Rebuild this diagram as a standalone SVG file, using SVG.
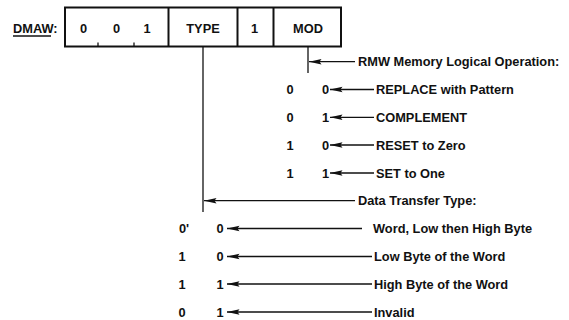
<svg xmlns="http://www.w3.org/2000/svg" width="569" height="320" viewBox="0 0 569 320">
<style>
text{font-family:"Liberation Sans",Arial,sans-serif;font-weight:bold;font-size:12.8px;fill:#111}
.c{text-anchor:middle}
.box{fill:none;stroke:#111;stroke-width:2}
.ln{stroke:#111;stroke-width:1.3;fill:none}
</style>
<defs>
<marker id="ah" markerUnits="userSpaceOnUse" markerWidth="14" markerHeight="8" viewBox="0 -4 14 8" refX="0" refY="0" orient="auto">
<path d="M0,0 L12.5,-2.8 L10.5,0 L12.5,2.8 Z" fill="#111"/>
</marker>
</defs>
<rect width="569" height="320" fill="#fff"/>
<g id="register">
<text x="13" y="33">DMAW:</text>
<line x1="13" y1="36" x2="51" y2="36" stroke="#111" stroke-width="1.3"/>
<rect class="box" x="65" y="7.5" width="276" height="39"/>
<line class="box" x1="168.5" y1="7.5" x2="168.5" y2="46.5"/>
<line class="box" x1="237.5" y1="7.5" x2="237.5" y2="46.5"/>
<line class="box" x1="273.5" y1="7.5" x2="273.5" y2="46.5"/>
<line class="ln" x1="98" y1="46.5" x2="98" y2="42.5"/>
<line class="ln" x1="134" y1="46.5" x2="134" y2="42.5"/>
<text class="c" x="83.5" y="32.5">0</text>
<text class="c" x="116.5" y="32.5">0</text>
<text class="c" x="147" y="32.5">1</text>
<text class="c" x="203" y="32.5">TYPE</text>
<text class="c" x="254.5" y="32.5">1</text>
<text class="c" x="308" y="32.5">MOD</text>
</g>
<g id="connectors" marker-start="url(#ah)">
<line class="ln" x1="308" y1="46.5" x2="308" y2="73" marker-start="none"/>
<line class="ln" x1="309" y1="61.7" x2="355" y2="61.7"/>
<line class="ln" x1="330" y1="89.5" x2="374" y2="89.5"/>
<line class="ln" x1="330" y1="117.3" x2="374" y2="117.3"/>
<line class="ln" x1="330" y1="145" x2="374" y2="145"/>
<line class="ln" x1="330" y1="173" x2="374" y2="173"/>
<line class="ln" x1="203" y1="46.5" x2="203" y2="212" marker-start="none"/>
<line class="ln" x1="204" y1="200.7" x2="355" y2="200.7"/>
<line class="ln" x1="227" y1="228.5" x2="362" y2="228.5"/>
<line class="ln" x1="227" y1="256.5" x2="372" y2="256.5"/>
<line class="ln" x1="227" y1="284" x2="372" y2="284"/>
<line class="ln" x1="227" y1="312" x2="372" y2="312"/>
</g>
<g id="mod-title"><text x="358" y="66.2">RMW Memory Logical Operation:</text></g>
<g id="mod-00"><text class="c" x="290" y="94">0</text><text class="c" x="325.5" y="94">0</text><text x="376" y="94">REPLACE with Pattern</text></g>
<g id="mod-01"><text class="c" x="290" y="121.8">0</text><text class="c" x="325.5" y="121.8">1</text><text x="376" y="121.8">COMPLEMENT</text></g>
<g id="mod-10"><text class="c" x="290" y="149.5">1</text><text class="c" x="325.5" y="149.5">0</text><text x="376" y="149.5">RESET to Zero</text></g>
<g id="mod-11"><text class="c" x="290" y="177.5">1</text><text class="c" x="325.5" y="177.5">1</text><text x="376" y="177.5">SET to One</text></g>
<g id="type-title"><text x="358" y="205.2">Data Transfer Type:</text></g>
<g id="type-00"><text class="c" x="184" y="233">0'</text><text class="c" x="220" y="233">0</text><text x="373" y="233">Word, Low then High Byte</text></g>
<g id="type-10"><text class="c" x="182" y="261">1</text><text class="c" x="220" y="261">0</text><text x="374" y="261">Low Byte of the Word</text></g>
<g id="type-11"><text class="c" x="182" y="288.5">1</text><text class="c" x="220" y="288.5">1</text><text x="374" y="288.5">High Byte of the Word</text></g>
<g id="type-01"><text class="c" x="182" y="316.5">0</text><text class="c" x="220" y="316.5">1</text><text x="374" y="316.5">Invalid</text></g>
</svg>
